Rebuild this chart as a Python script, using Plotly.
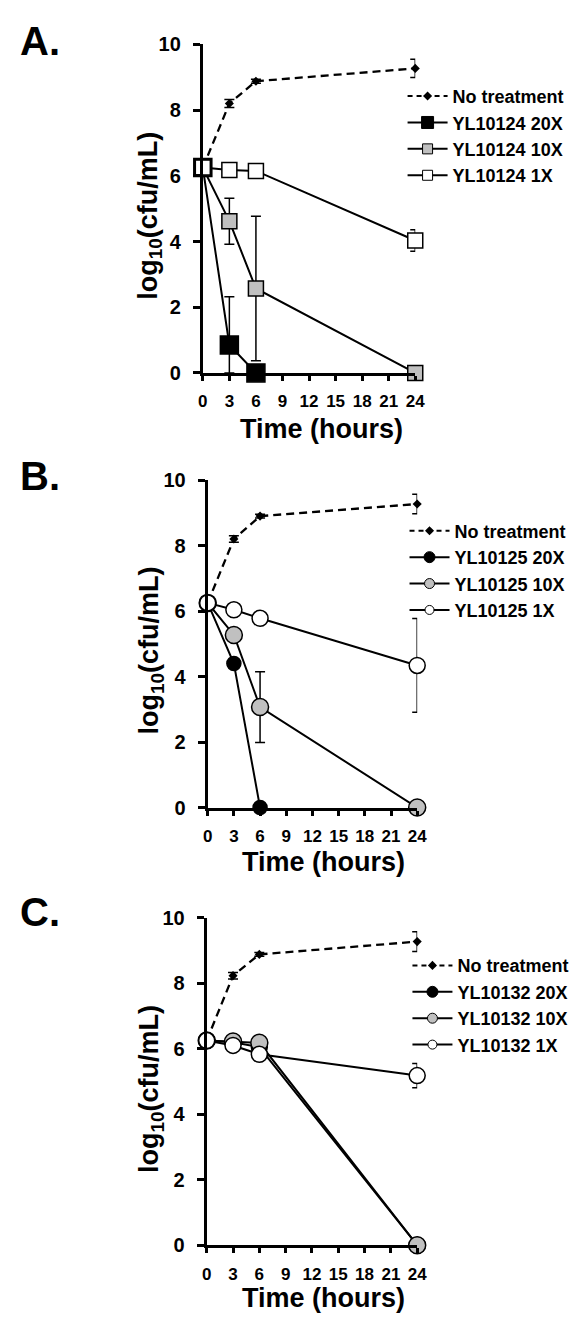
import plotly.graph_objects as go

W, H = 587, 1327
FONT = "Liberation Sans, Arial, Helvetica, sans-serif"
GRAY = "#c0c0c0"

# ---------------- data ----------------
time_all = [0, 3, 6, 24]
time_short = [0, 3, 6]
x_ticks = [0, 3, 6, 9, 12, 15, 18, 21, 24]
y_ticks = [0, 2, 4, 6, 8, 10]

# Panel A: YL10124
a_none = [6.25, 8.2, 8.88, 9.27]
a_none_err = [0, 0.12, 0.06, 0.28]
a_20x = [6.25, 0.85, 0.0]
a_20x_err_plus = [0, 1.47, 0]
a_20x_err_minus = [0, 0.85, 0]
a_10x = [6.25, 4.62, 2.57, 0.0]
a_10x_err = [0, 0.7, 2.2, 0]
a_1x = [6.25, 6.18, 6.15, 4.03]
a_1x_err = [0, 0, 0, 0.33]

# Panel B: YL10125
b_none = [6.25, 8.2, 8.9, 9.27]
b_none_err = [0, 0.1, 0.06, 0.3]
b_20x = [6.25, 4.4, 0.0]
b_10x = [6.25, 5.27, 3.07, 0.0]
b_10x_err = [0, 0, 1.08, 0]
b_1x = [6.25, 6.04, 5.78, 4.34]
b_1x_err = [0, 0, 0, 1.43]

# Panel C: YL10132
c_none = [6.25, 8.23, 8.88, 9.27]
c_none_err = [0, 0.1, 0.06, 0.3]
c_20x = [6.25, 6.2, 6.05, 0.0]
c_10x = [6.25, 6.22, 6.18, 0.0]
c_1x = [6.25, 6.1, 5.83, 5.18]
c_1x_err = [0, 0, 0, 0.37]

panel_labels = ["A.", "B.", "C."]
compounds = ["YL10124", "YL10125", "YL10132"]
doses = ["20X", "10X", "1X"]


def px(x):
    return x / W


def py(y):
    return 1 - y / H


# pixel geometry of each panel: (x0, x24, y10, y0)
geo = [(203, 421, 34, 368), (208, 423, 477, 810), (207, 423, 922, 1255)]
legend_pos = [(408, 68), (410, 510), (413, 952)]
label_y = [30, 473, 916]
ytitle_pos = [(148, 208), (150, 650), (150, 1096)]
xtitle_pos = [(325, 425), (327, 865), (327, 1309)]

fig = go.Figure()


def err(vals, minus=None):
    d = dict(type="data", array=vals, color="black", thickness=1.5, width=5, visible=True)
    if minus is not None:
        d["symmetric"] = False
        d["arrayminus"] = minus
    return d


panels = [
    dict(symbol="square",
         none=(a_none, a_none_err),
         s20=(time_short, a_20x, err(a_20x_err_plus, a_20x_err_minus), 18),
         s10=(time_all, a_10x, err(a_10x_err), 15),
         s1=(time_all, a_1x, err(a_1x_err), 15),
         leg_sizes=(12, 10, 10)),
    dict(symbol="circle",
         none=(b_none, b_none_err),
         s20=(time_short, b_20x, None, 14),
         s10=(time_all, b_10x, err(b_10x_err), 17),
         s1=(time_all, b_1x, err(b_1x_err), 16),
         leg_sizes=(11, 10, 9)),
    dict(symbol="circle",
         none=(c_none, c_none_err),
         s20=(time_all, c_20x, None, 16),
         s10=(time_all, c_10x, None, 17),
         s1=(time_all, c_1x, err(c_1x_err), 16),
         leg_sizes=(11, 10, 9)),
]

for i, p in enumerate(panels):
    sfx = "" if i == 0 else str(i + 1)
    xa, ya = "x" + sfx, "y" + sfx
    leg = "legend" + sfx
    # No treatment
    yv, ev = p["none"]
    fig.add_trace(go.Scatter(
        x=time_all, y=yv, mode="lines+markers", xaxis=xa, yaxis=ya,
        line=dict(color="black", width=2.3, dash="8px,5px"),
        marker=dict(symbol="diamond", size=7, color="black"),
        error_y=err(ev), showlegend=False, cliponaxis=False))
    fills = ["black", GRAY, "white"]
    for key, fill in zip(["s20", "s10", "s1"], fills):
        tx, yv, e, sz = p[key]
        kw = {}
        if e is not None:
            kw["error_y"] = e
        fig.add_trace(go.Scatter(
            x=tx, y=yv, mode="lines+markers", xaxis=xa, yaxis=ya,
            line=dict(color="black", width=2),
            marker=dict(symbol=p["symbol"], size=sz, color=fill,
                        line=dict(color="black", width=1.5)),
            showlegend=False, cliponaxis=False, **kw))
    # legend entries (small legend symbols as in the original)
    fig.add_trace(go.Scatter(
        x=[None], y=[None], mode="lines+markers", xaxis=xa, yaxis=ya,
        name="No treatment", legend=leg,
        line=dict(color="black", width=2, dash="5px,4px"),
        marker=dict(symbol="diamond", size=7, color="black")))
    for dose, fill, lsz in zip(doses, fills, p["leg_sizes"]):
        fig.add_trace(go.Scatter(
            x=[None], y=[None], mode="lines+markers", xaxis=xa, yaxis=ya,
            name=f"{compounds[i]} {dose}", legend=leg,
            line=dict(color="black", width=2),
            marker=dict(symbol=p["symbol"], size=lsz, color=fill,
                        line=dict(color="black", width=1))))

    x0, x24, y10, y0 = geo[i]
    fig.update_layout(**{
        "xaxis" + sfx: dict(
            domain=[px(x0), px(x24)], anchor=ya, range=[0, 24],
            tickvals=x_ticks, ticktext=[str(v) for v in x_ticks],
            showline=True, linewidth=3, linecolor="black",
            ticks="outside", ticklen=5, tickwidth=3, tickcolor="black",
            ticklabelstandoff=6,
            tickfont=dict(family=FONT, size=17, color="black", weight="bold"),
            showgrid=False, zeroline=False, fixedrange=True),
        "yaxis" + sfx: dict(
            domain=[py(y0), py(y10)], anchor=xa, range=[0, 10],
            tickvals=y_ticks, ticktext=[str(v) for v in y_ticks],
            showline=True, linewidth=3, linecolor="black",
            ticks="outside", ticklen=7, tickwidth=3, tickcolor="black",
            ticklabelstandoff=8,
            tickfont=dict(family=FONT, size=20, color="black", weight="bold"),
            showgrid=False, zeroline=False, fixedrange=True),
        leg: dict(
            x=px(legend_pos[i][0]), y=py(legend_pos[i][1]),
            xanchor="left", yanchor="top", bgcolor="rgba(0,0,0,0)",
            borderwidth=0, itemwidth=40, traceorder="normal",
            font=dict(family=FONT, size=18, color="black", weight="bold"),
            itemsizing="trace"),
    })

annotations = []
for i in range(3):
    annotations.append(dict(
        text=panel_labels[i], x=px(13), y=py(label_y[i]), xref="paper", yref="paper",
        xanchor="left", yanchor="middle", showarrow=False,
        font=dict(family=FONT, size=40, color="black", weight="bold")))
    annotations.append(dict(
        text="log<sub>10</sub>(cfu/mL)", x=px(ytitle_pos[i][0]), y=py(ytitle_pos[i][1]),
        xref="paper", yref="paper", xanchor="center", yanchor="middle",
        textangle=-90, showarrow=False,
        font=dict(family=FONT, size=27, color="black", weight="bold")))
    annotations.append(dict(
        text="Time (hours)", x=px(xtitle_pos[i][0]), y=py(xtitle_pos[i][1]),
        xref="paper", yref="paper", xanchor="center", yanchor="middle",
        showarrow=False,
        font=dict(family=FONT, size=27, color="black", weight="bold")))

fig.update_layout(
    width=W, height=H,
    margin=dict(l=0, r=0, t=0, b=0),
    paper_bgcolor="white", plot_bgcolor="white",
    annotations=annotations,
    showlegend=True,
)

fig.write_html("out.html", config={"displayModeBar": False})
